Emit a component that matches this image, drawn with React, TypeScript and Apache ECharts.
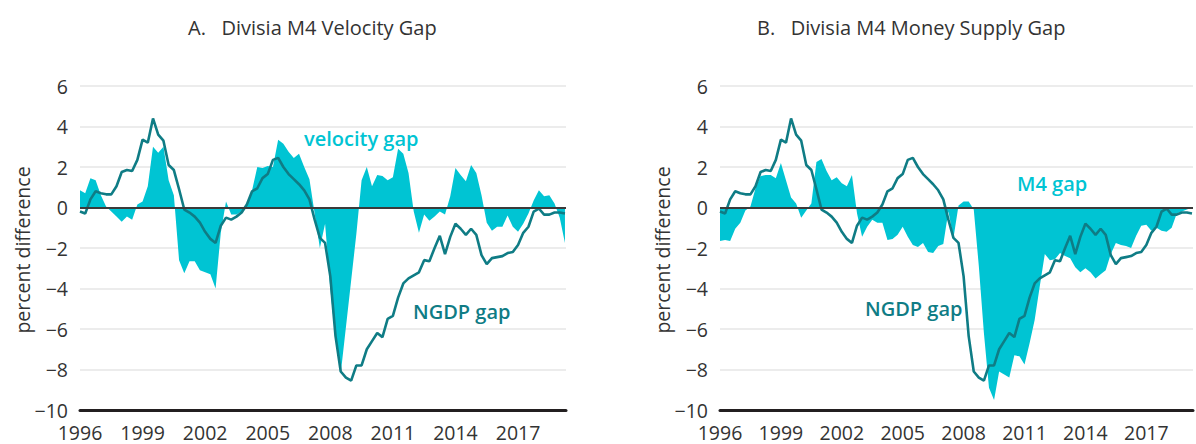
import { useEffect, useRef } from 'react';
import * as echarts from 'echarts';

// Quarterly data, 1996Q1 onward
const startYear = 1996;

const ngdpGap = [
  -0.2, -0.3, 0.4, 0.8, 0.7, 0.65, 0.65, 1.05, 1.75, 1.85,
  1.8, 2.35, 3.35, 3.2, 4.4, 3.6, 3.3, 2.1, 1.85, 0.9,
  -0.1, -0.25, -0.45, -0.75, -1.2, -1.55, -1.75, -0.9, -0.5, -0.6,
  -0.45, -0.25, 0.15, 0.8, 0.95, 1.45, 1.65, 2.35, 2.45, 2.0,
  1.65, 1.4, 1.15, 0.85, 0.4, -0.6, -1.5, -1.75, -3.4, -6.35,
  -8.1, -8.4, -8.55, -7.8, -7.8, -7.0, -6.6, -6.2, -6.4, -5.5,
  -5.35, -4.45, -3.75, -3.5, -3.35, -3.2, -2.6, -2.65, -2.0, -1.4,
  -2.3, -1.45, -0.8, -1.05, -1.35, -1.05, -1.35, -2.35, -2.8, -2.5,
  -2.45, -2.4, -2.25, -2.2, -1.85, -1.25, -0.95, -0.2, -0.05, -0.35,
  -0.35, -0.25, -0.25, -0.3,
];

const velocityGap = [
  0.85, 0.7, 1.45, 1.35, 0.6, 0.05, -0.2, -0.45, -0.7, -0.45,
  -0.6, 0.15, 0.3, 1.05, 3.0, 2.7, 3.0, 1.35, 0.6, -2.6,
  -3.25, -2.65, -2.65, -3.1, -3.2, -3.3, -4.0, -1.25, 0.3, -0.35,
  -0.35, -0.2, 0.15, 0.85, 2.0, 1.95, 2.05, 2.0, 3.35, 3.15,
  2.75, 2.45, 2.65, 2.0, 1.4, -0.3, -2.0, -0.8, -4.0, -6.5,
  -8.2, -5.9, -3.6, -1.3, 1.35, 2.0, 1.05, 1.6, 1.55, 1.35,
  1.5, 2.9, 2.65, 1.7, -0.2, -1.25, -0.35, -0.65, -0.45, -0.2,
  -0.35, 0.55, 1.95, 1.6, 1.3, 2.1, 1.7, 0.6, -0.75, -1.15,
  -0.95, -0.95, -0.4, -0.95, -1.2, -0.8, -0.3, 0.35, 0.85, 0.55,
  0.6, 0.2, -0.5, -1.75,
];

const m4Gap = [
  -1.65, -1.6, -1.65, -1.05, -0.75, -0.15, 0.05, 0.95, 1.55, 1.6,
  1.6, 1.45, 2.2, 1.35, 0.5, 0.2, -0.5, -0.15, 0.2, 2.25,
  2.4, 1.8, 1.35, 1.5, 1.2, 1.05, 1.6, -0.3, -1.45, -0.95,
  -0.6, -0.75, -0.75, -1.6, -1.55, -1.35, -0.95, -1.45, -1.85, -1.95,
  -1.75, -2.2, -2.25, -1.9, -1.8, -0.2, -1.5, 0.1, 0.3, 0.3,
  -0.1, -2.9, -6.2, -8.9, -9.5, -8.1, -8.25, -8.4, -7.3, -7.35,
  -7.75, -6.7, -5.55, -3.9, -2.3, -2.6, -2.55, -2.25, -2.4, -2.5,
  -2.95, -3.2, -3.0, -3.2, -3.5, -3.3, -3.1, -2.3, -1.75, -1.85,
  -1.9, -2.0, -1.4, -0.9, -0.85, -1.15, -1.0, -1.15, -1.2, -1.0,
  -0.3, -0.2, -0.1, 0.0,
];

const xTickYears = [1996, 1999, 2002, 2005, 2008, 2011, 2014, 2017];
const yTicks = [-10, -8, -6, -4, -2, 0, 2, 4, 6];

const titles = ['A.   Divisia M4 Velocity Gap', 'B.   Divisia M4 Money Supply Gap'];
const yAxisTitle = 'percent difference';

const CYAN = '#00C4D3';
const TEAL = '#0F7C85';
const TEXT = '#333333';
const FONT = '"Open Sans", "DejaVu Sans", sans-serif';

const toPairs = (vals: number[]) => vals.map((v, i) => [startYear + i / 4, v]);

export default function App() {
  const ref = useRef<HTMLDivElement>(null);

  useEffect(() => {
    if (!ref.current) return;
    const chart = echarts.init(ref.current, undefined, { renderer: 'svg' });

    const xAxisBase = (gridIndex: number) => ({
      type: 'value' as const,
      gridIndex,
      min: xTickYears[0],
      max: 2019.3,
      interval: 3,
      axisLine: { onZero: false, lineStyle: { color: '#231f20', width: 3 } },
      axisTick: { show: false },
      splitLine: { show: false },
      axisLabel: {
        color: TEXT,
        fontSize: 19.5,
        fontFamily: FONT,
        margin: 12,
        formatter: (v: number) => {
          const r = Math.round(v);
          return Math.abs(v - r) < 1e-6 && xTickYears.includes(r) ? String(r) : '';
        },
      },
    });

    const yAxisBase = (gridIndex: number) => ({
      type: 'value' as const,
      gridIndex,
      min: yTicks[0],
      max: yTicks[yTicks.length - 1],
      interval: 2,
      axisLine: { show: false },
      axisTick: { show: false },
      splitLine: { show: true, lineStyle: { color: '#e6e6e6', width: 1.5 } },
      axisLabel: {
        color: TEXT,
        fontSize: 19.5,
        fontFamily: FONT,
        margin: 12,
        formatter: (v: number) => String(v).replace('-', '\u2212'),
      },
    });

    const zeroLine = {
      silent: true,
      symbol: 'none',
      label: { show: false },
      lineStyle: { color: '#3a3a3a', width: 2, type: 'solid' as const },
      data: [{ yAxis: 0 }],
    };

    const areaSeries = (idx: number, vals: number[], name: string) => ({
      type: 'line' as const,
      name,
      xAxisIndex: idx,
      yAxisIndex: idx,
      data: toPairs(vals),
      symbol: 'none',
      lineStyle: { width: 0, color: CYAN },
      itemStyle: { color: CYAN },
      areaStyle: { color: CYAN, opacity: 1, origin: 0 },
      z: 1,
      markLine: zeroLine,
    });

    const lineSeries = (idx: number, vals: number[], name: string) => ({
      type: 'line' as const,
      name,
      xAxisIndex: idx,
      yAxisIndex: idx,
      data: toPairs(vals),
      symbol: 'none',
      lineStyle: { width: 2.6, color: TEAL },
      itemStyle: { color: TEAL },
      z: 3,
    });

    const txt = (x: number, y: number, text: string, opts: any = {}) => ({
      type: 'text' as const,
      x,
      y,
      rotation: opts.rotation || 0,
      style: {
        text,
        fill: opts.color || TEXT,
        font: `${opts.weight || 'normal'} ${opts.size || 18}px ${FONT}`,
        align: opts.align || 'left',
        verticalAlign: 'middle',
      },
      z: 10,
    });

    chart.setOption({
      animation: false,
      backgroundColor: '#ffffff',
      grid: [
        { left: 80, top: 86, width: 486, height: 324 },
        { left: 720, top: 86, width: 492, height: 324 },
      ],
      xAxis: [xAxisBase(0), xAxisBase(1)],
      yAxis: [yAxisBase(0), yAxisBase(1)],
      series: [
        areaSeries(0, velocityGap, 'velocity gap'),
        lineSeries(0, ngdpGap, 'NGDP gap'),
        areaSeries(1, m4Gap, 'M4 gap'),
        lineSeries(1, ngdpGap, 'NGDP gap'),
      ],
      graphic: [
        txt(188, 27, titles[0], { size: 20 }),
        txt(757, 27, titles[1], { size: 20 }),
        txt(22, 250, yAxisTitle, { rotation: Math.PI / 2, align: 'center', size: 19.5 }),
        txt(662, 250, yAxisTitle, { rotation: Math.PI / 2, align: 'center', size: 19.5 }),
        txt(304, 138, 'velocity gap', { color: CYAN, weight: 600, size: 20 }),
        txt(413, 311, 'NGDP gap', { color: TEAL, weight: 600, size: 20 }),
        txt(1017, 183, 'M4 gap', { color: CYAN, weight: 600, size: 20 }),
        txt(865, 308, 'NGDP gap', { color: TEAL, weight: 600, size: 20 }),
      ],
    });

    return () => chart.dispose();
  }, []);

  return (
    <div
      ref={ref}
      style={{ position: 'absolute', left: 0, top: 0, width: 1196, height: 444, overflow: 'hidden', background: '#fff' }}
    />
  );
}
